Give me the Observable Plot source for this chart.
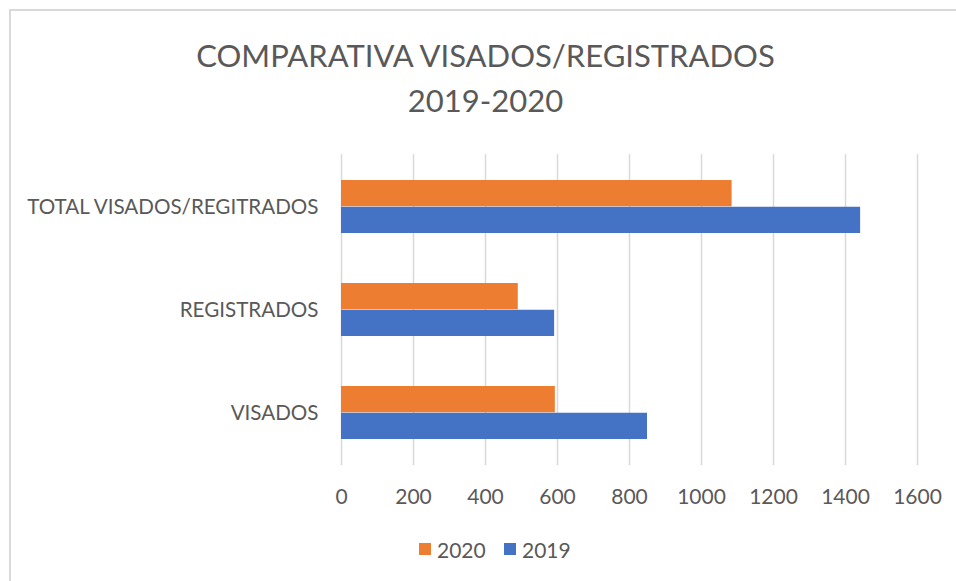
<!DOCTYPE html>
<html>
<head>
<meta charset="utf-8">
<script src="https://cdn.jsdelivr.net/npm/d3@7"></script>
<script src="https://cdn.jsdelivr.net/npm/@observablehq/plot@0.6"></script>
<style>
  html, body { margin: 0; padding: 0; background: #fff; }
  #chart { position: relative; width: 956px; height: 581px; overflow: hidden; font-family: Lato, "Open Sans", sans-serif; color: #595959; }
  #frame { position: absolute; left: 9px; top: 9px; width: 1000px; height: 700px; border: 2px solid #d9d9d9; box-sizing: border-box; }
  #title { position: absolute; left: 10px; width: 951px; top: 33px; text-align: center; font-size: 31px; line-height: 45px; color: #595959; }
  #plot { position: absolute; left: 0; top: 0; }
  #legend { position: absolute; top: 536px; left: 0; width: 956px; height: 28px; font-size: 21px; color: #595959; }
  .sw { position: absolute; top: 7px; width: 12px; height: 12px; }
  .lt { position: absolute; top: 0; line-height: 28px; }
</style>
</head>
<body>
<div id="chart">
  <div id="frame"></div>
  <div id="title"></div>
  <div id="plot"></div>
  <div id="legend"></div>
</div>
<script>
const titleLines = ["COMPARATIVA VISADOS/REGISTRADOS", "2019-2020"];
const categories = ["TOTAL VISADOS/REGITRADOS", "REGISTRADOS", "VISADOS"];
const series = ["2020", "2019"];
const values2020 = [1085, 491, 594];
const values2019 = [1442, 592, 850];
const xTicks = [0, 200, 400, 600, 800, 1000, 1200, 1400, 1600];
const colors = {"2020": "#ED7D31", "2019": "#4472C4"};

const W = 956, H = 581;
const mTop = 154, mBottom = 116, mLeft = 341, mRight = 39;
const padInner = 0.484, padOuter = 0.242;

const rows = [];
categories.forEach((c, i) => {
  rows.push({category: c, year: "2020", value: values2020[i]});
  rows.push({category: c, year: "2019", value: values2019[i]});
});

const yTmp = Plot.scale({y: {type: "band", domain: categories, range: [mTop, H - mBottom], paddingInner: padInner, paddingOuter: padOuter}});
const half = yTmp.bandwidth / 2;

document.getElementById("title").innerHTML = titleLines.map(t => `<div>${t}</div>`).join("");

const chart = Plot.plot({
  width: W,
  height: H,
  marginTop: mTop,
  marginBottom: mBottom,
  marginLeft: mLeft,
  marginRight: mRight,
  style: {fontFamily: "Lato, 'Open Sans', sans-serif", background: "transparent", color: "#595959"},
  x: {domain: [0, 1600], ticks: xTicks, tickSize: 0, tickPadding: 24, tickFormat: d => String(d), label: null},
  y: {domain: categories, paddingInner: padInner, paddingOuter: padOuter, tickSize: 0, tickPadding: 23, label: null},
  marks: [
    Plot.ruleX(xTicks, {stroke: "#d9d9d9", strokeWidth: 1.5}),
    Plot.barX(rows.filter(d => d.year === "2020"), {x: "value", y: "category", fill: colors["2020"], insetBottom: half, insetTop: 0}),
    Plot.barX(rows.filter(d => d.year === "2019"), {x: "value", y: "category", fill: colors["2019"], insetTop: half, insetBottom: 0}),
    Plot.axisX({ticks: xTicks, tickSize: 0, tickPadding: 24, fontSize: 21, fill: "#595959", tickFormat: d => String(d), label: null}),
    Plot.axisY({tickSize: 0, tickPadding: 23, fontSize: 20.6, fill: "#595959", label: null})
  ]
});
document.getElementById("plot").appendChild(chart);

const legend = document.getElementById("legend");
const legendPos = [{sw: 419, tx: 437}, {sw: 504, tx: 522}];
series.forEach((s, i) => {
  const sw = document.createElement("div");
  sw.className = "sw"; sw.style.left = legendPos[i].sw + "px"; sw.style.background = colors[s];
  const t = document.createElement("div");
  t.className = "lt"; t.style.left = legendPos[i].tx + "px"; t.textContent = s;
  legend.appendChild(sw); legend.appendChild(t);
});
</script>
</body>
</html>
